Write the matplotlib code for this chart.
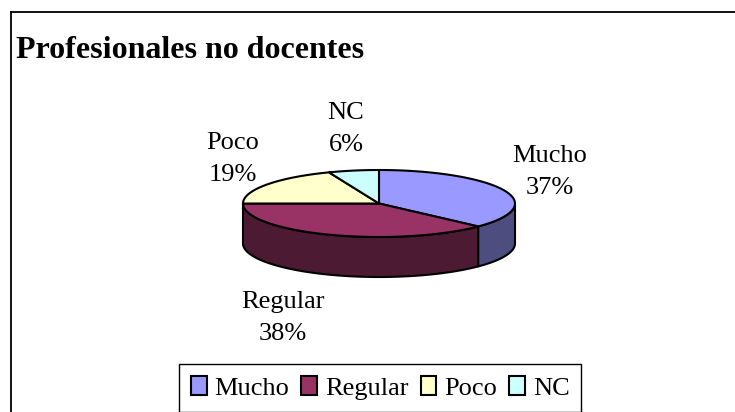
import numpy as np
import matplotlib
matplotlib.use('Agg')
import matplotlib.pyplot as plt
from matplotlib.patches import Polygon, Patch

# Data
categories = ['Mucho', 'Regular', 'Poco', 'NC']
percentages = [37, 38, 19, 6]
top_colors = ['#9999ff', '#993366', '#ffffcc', '#ccffff']
side_colors = ['#4d4d80', '#4d1a33', '#80806a', '#6a8080']
title = 'Profesionales no docentes'

plt.rcParams['font.family'] = ['Liberation Serif', 'DejaVu Serif']

fig = plt.figure(figsize=(7.35, 4.12), dpi=100)
ax = fig.add_axes([0, 0, 1, 1])
ax.set_xlim(0, 735)
ax.set_ylim(412, 0)
ax.axis('off')

# chart area border (top and left visible)
ax.plot([11, 735], [12, 12], color='black', lw=1.3)
ax.plot([11, 11], [12, 412], color='black', lw=1.3)

ax.text(16, 58, title, fontsize=23, fontweight='bold', ha='left', va='baseline')

# pie geometry (pixels)
cx, cy = 379, 203.5
rx, ry = 136, 33.5
depth = 40

def pt(t, dy=0):
    t = np.radians(t)
    return cx + rx * np.cos(t), cy - ry * np.sin(t) + dy

# slice angles, clockwise from 12 o'clock
fracs = np.array(percentages) / sum(percentages)
starts = 90 - 360 * np.concatenate([[0], np.cumsum(fracs)[:-1]])
ends = starts - 360 * fracs

# side walls (front half only)
for s, e, col in zip(starts, ends, side_colors):
    a = min(s, 0)
    b = max(e, -180)
    if a <= b:
        continue
    ts = np.linspace(a, b, 80)
    top = [pt(t) for t in ts]
    bot = [pt(t, depth) for t in ts[::-1]]
    ax.add_patch(Polygon(top + bot, closed=True, facecolor=col, edgecolor='black', lw=1.5, joinstyle='round'))

# top faces
for s, e, col in zip(starts, ends, top_colors):
    ts = np.linspace(s, e, 120)
    verts = [(cx, cy)] + [pt(t) for t in ts]
    ax.add_patch(Polygon(verts, closed=True, facecolor=col, edgecolor='black', lw=1.5, joinstyle='round'))

# data labels
label_pos = [(550, 172), (283, 318), (233, 159), (346, 129)]
for name, p, (x, y) in zip(categories, percentages, label_pos):
    ax.text(x, y, f'{name}\n{p}%', fontsize=19, ha='center', va='center', linespacing=1.62)

handles = [Patch(facecolor=c, edgecolor='black', lw=1.5) for c in top_colors]
leg = ax.legend(handles, categories, loc='upper left', bbox_to_anchor=(179 / 735, 1 - 364 / 412),
                borderaxespad=0, ncol=4, fontsize=19, handlelength=0.6, handleheight=0.75,
                handletextpad=0.3, columnspacing=0.45, borderpad=0.45, fancybox=False, framealpha=1)
leg.get_frame().set_edgecolor('black')
leg.get_frame().set_linewidth(1.0)

fig.savefig('out.png', dpi=100)
